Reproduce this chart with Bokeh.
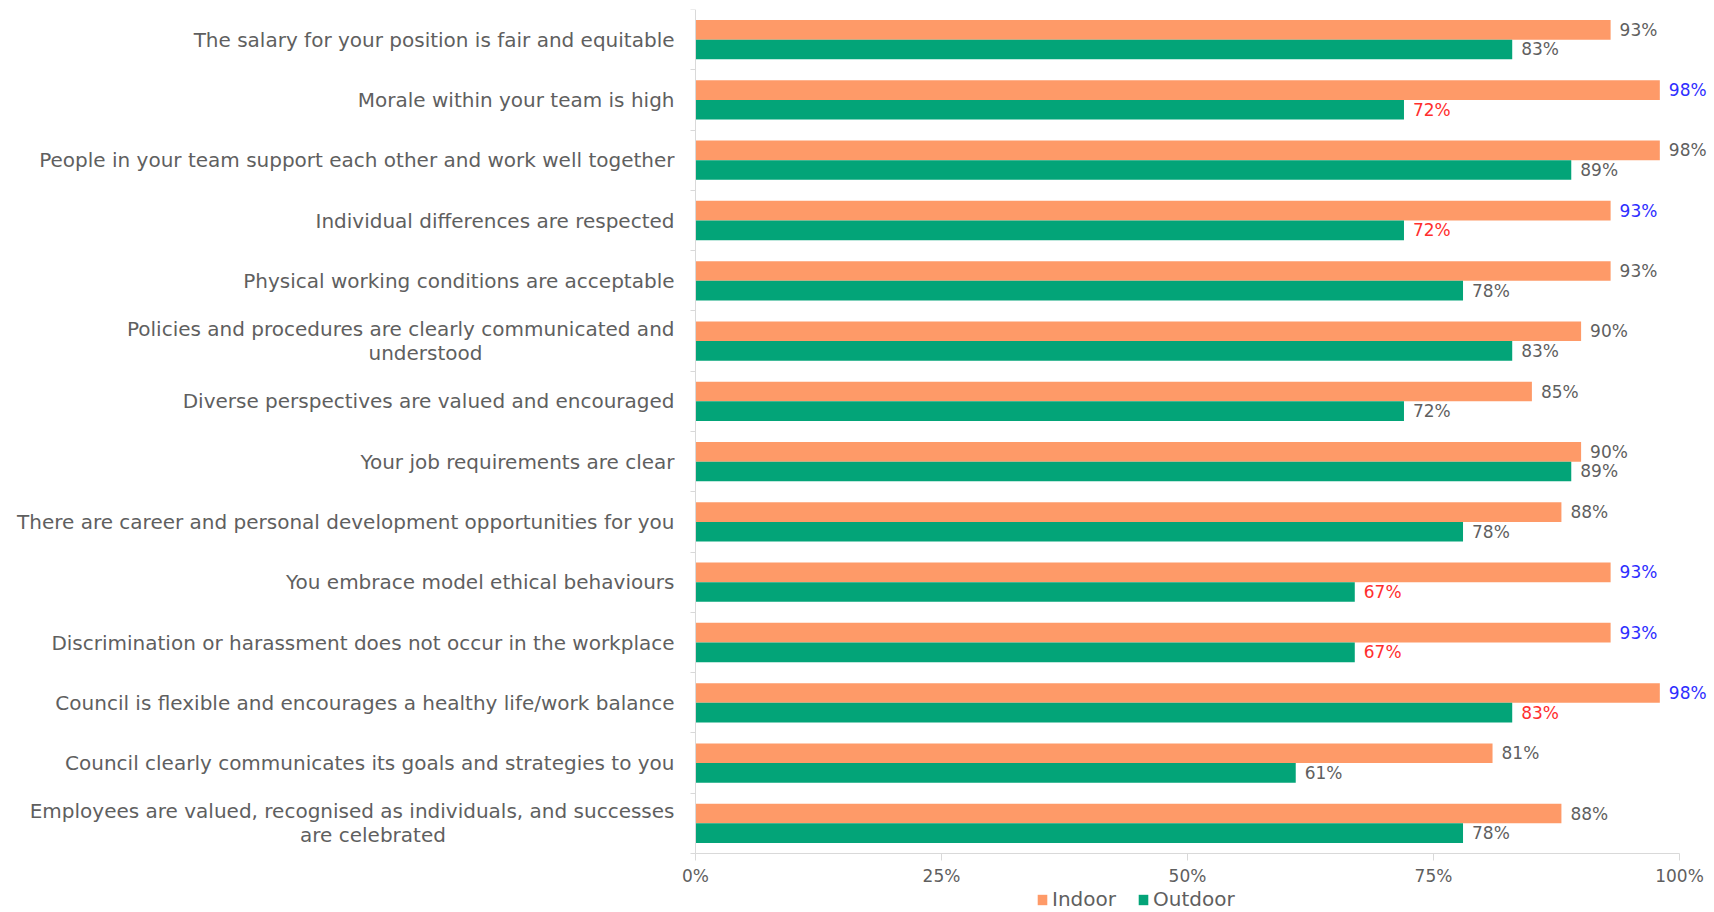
from bokeh.plotting import figure
from bokeh.models import (ColumnDataSource, Range1d, FixedTicker, NumeralTickFormatter,
                          Legend, LegendItem)
from bokeh.layouts import row
from bokeh.embed import file_html
from bokeh.resources import INLINE
from bokeh.core.properties import value

# Survey statements, top to bottom
statements = [
    "The salary for your position is fair and equitable",
    "Morale within your team is high",
    "People in your team support each other and work well together",
    "Individual differences are respected",
    "Physical working conditions are acceptable",
    "Policies and procedures are clearly communicated and\nunderstood",
    "Diverse perspectives are valued and encouraged",
    "Your job requirements are clear",
    "There are career and personal development opportunities for you",
    "You embrace model ethical behaviours",
    "Discrimination or harassment does not occur in the workplace",
    "Council is flexible and encourages a healthy life/work balance",
    "Council clearly communicates its goals and strategies to you",
    "Employees are valued, recognised as individuals, and successes\nare celebrated",
]

# Percentage agreeing, by workforce group
indoor = [93, 98, 98, 93, 93, 90, 85, 90, 88, 93, 93, 98, 81, 88]
outdoor = [83, 72, 89, 72, 78, 83, 72, 89, 78, 67, 67, 83, 61, 78]

# Statements where the gap between groups is notable
notable = [0, 1, 0, 1, 0, 0, 0, 0, 0, 1, 1, 1, 0, 0]

x_ticks = [0, 0.25, 0.5, 0.75, 1.0]

ORANGE = "#FE9A68"
GREEN = "#03A478"
GREY = "#5F5F5F"
BLUE = "#2E2EFF"
RED = "#FF2E2E"
AXIS = "#D9D9D9"
FONT = "DejaVu Sans"

n = len(statements)
half = 0.163
bar_h = 0.326
centers = [n - i - 0.5 for i in range(n)]

src = ColumnDataSource(dict(
    y_in=[c + half for c in centers],
    y_out=[c - half for c in centers],
    indoor=[v / 100 for v in indoor],
    outdoor=[v / 100 for v in outdoor],
    lab_in=[f"{v}%" for v in indoor],
    lab_out=[f"{v}%" for v in outdoor],
    col_in=[BLUE if f else GREY for f in notable],
    col_out=[RED if f else GREY for f in notable],
))

BARS_H = 844          # height of the statement rows
FOOT_H = 59           # room under the rows for the x axis and legend
PLOT_W = 984          # width of the 0..100% span
EXTRA_L = 20          # room left of 0% for the first tick label
EXTRA_R = 35          # room for the value labels past 100%
FRAME_H = BARS_H + FOOT_H
y_range = Range1d(-FOOT_H * n / BARS_H, n)

# ---- bar panel ----
p = figure(frame_width=EXTRA_L + PLOT_W + EXTRA_R, frame_height=FRAME_H,
           x_range=Range1d(-EXTRA_L / PLOT_W, 1 + EXTRA_R / PLOT_W), y_range=y_range,
           output_backend="svg", toolbar_location=None,
           min_border_left=0, min_border_right=0, min_border_top=9, min_border_bottom=0)
p.outline_line_color = None
p.grid.visible = False
p.background_fill_color = "white"

r_in = p.hbar(y="y_in", right="indoor", left=0, height=bar_h, source=src,
              fill_color=ORANGE, line_color=None)
r_out = p.hbar(y="y_out", right="outdoor", left=0, height=bar_h, source=src,
               fill_color=GREEN, line_color=None)

p.text(x="indoor", y="y_in", text="lab_in", source=src, x_offset=9,
       text_baseline="middle", text_align="left", text_color="col_in",
       text_font=value(FONT), text_font_size="17px")
p.text(x="outdoor", y="y_out", text="lab_out", source=src, x_offset=9,
       text_baseline="middle", text_align="left", text_color="col_out",
       text_font=value(FONT), text_font_size="17px")

xa = p.xaxis[0]
xa.fixed_location = 0
xa.bounds = (0, 1)
xa.ticker = FixedTicker(ticks=x_ticks)
xa.formatter = NumeralTickFormatter(format="0%")
xa.axis_line_color = AXIS
xa.major_tick_line_color = AXIS
xa.major_tick_in = 0
xa.major_tick_out = 7
xa.minor_tick_line_color = None
xa.major_label_text_font = FONT
xa.major_label_text_font_size = "17px"
xa.major_label_text_color = GREY
xa.major_label_standoff = 5

ya = p.yaxis[0]
ya.fixed_location = 0
ya.bounds = (0, n)
ya.ticker = FixedTicker(ticks=list(range(n + 1)))
ya.axis_line_color = AXIS
ya.major_tick_line_color = AXIS
ya.major_tick_in = 0
ya.major_tick_out = 5
ya.minor_tick_line_color = None
ya.major_label_overrides = {i: "" for i in range(n + 1)}
ya.major_label_standoff = 0

legend = Legend(items=[LegendItem(label="Indoor", renderers=[r_in]),
                       LegendItem(label="Outdoor", renderers=[r_out])],
                orientation="horizontal", location=(EXTRA_L + 341, 1),
                border_line_color=None, background_fill_alpha=0,
                padding=0, margin=0, spacing=21, glyph_width=12, glyph_height=13,
                label_standoff=4, label_text_font=FONT, label_text_font_size="20px",
                label_text_color=GREY, label_height=22)
p.add_layout(legend)

# ---- statement labels ----
LAB_W = 695 - EXTRA_L
LAB_SIZE = 20
q = figure(frame_width=LAB_W, frame_height=FRAME_H, x_range=Range1d(0, LAB_W), y_range=y_range,
           output_backend="svg", toolbar_location=None,
           min_border_left=0, min_border_right=0, min_border_top=9, min_border_bottom=0)
q.outline_line_color = None
q.grid.visible = False
q.axis.visible = False

right_edge = LAB_W - 1
char_w = 0.525 * LAB_SIZE
line_gap = 0.2
for s, c in zip(statements, centers):
    lines = s.split("\n")
    if len(lines) == 1:
        q.text(x=[right_edge], y=[c], text=[s], text_align="right", text_baseline="middle",
               text_color=GREY, text_font=value(FONT), text_font_size=f"{LAB_SIZE}px")
    else:
        w1 = len(lines[0]) * char_w
        q.text(x=[right_edge], y=[c + line_gap], text=[lines[0]], text_align="right",
               text_baseline="middle", text_color=GREY, text_font=value(FONT),
               text_font_size=f"{LAB_SIZE}px")
        q.text(x=[right_edge - w1 / 2 + 24], y=[c - line_gap], text=[lines[1]],
               text_align="center", text_baseline="middle", text_color=GREY,
               text_font=value(FONT), text_font_size=f"{LAB_SIZE}px")

layout = row(q, p)
open("out.html", "w").write(file_html(layout, INLINE))
